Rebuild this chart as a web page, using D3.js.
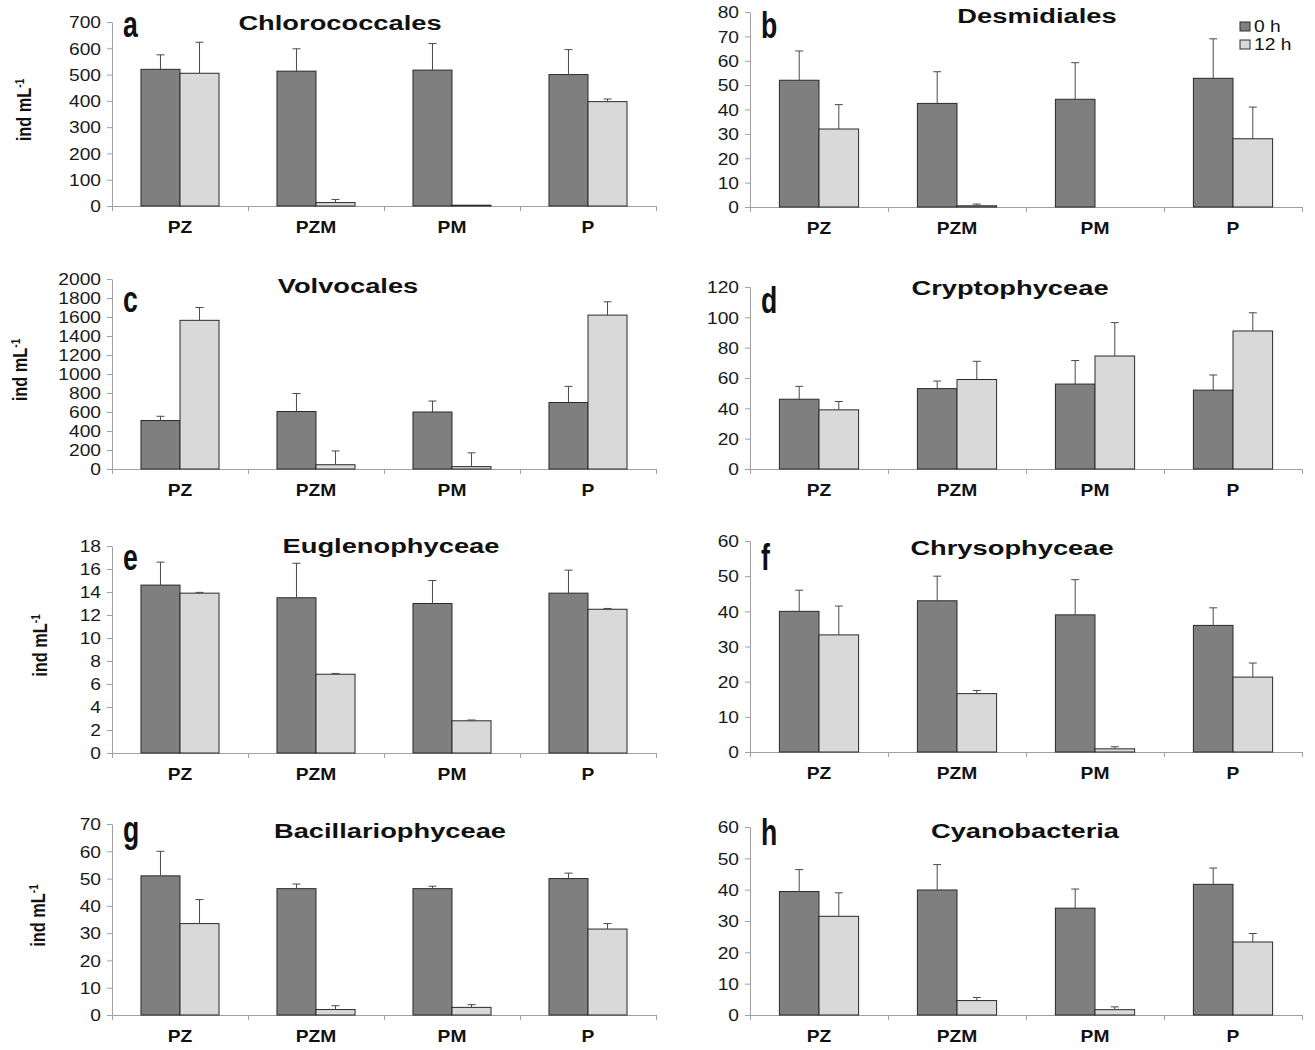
<!DOCTYPE html>
<html>
<head>
<meta charset="utf-8">
<script src="https://cdn.jsdelivr.net/npm/d3@7/dist/d3.min.js"></script>
<style>
  html, body { margin: 0; padding: 0; background: #fff; }
  svg { display: block; font-family: "Liberation Sans", Arial, sans-serif; }
</style>
</head>
<body>
<svg id="chart" width="1315" height="1050"></svg>
<script>
// Phytoplankton groups, abundance at 0 h and 12 h per treatment
const categories = ["PZ", "PZM", "PM", "P"];
const seriesNames = ["0 h", "12 h"];
const panelLetters = ["a", "b", "c", "d", "e", "f", "g", "h"];
const panelTitles = ["Chlorococcales", "Desmidiales", "Volvocales", "Cryptophyceae",
                     "Euglenophyceae", "Chrysophyceae", "Bacillariophyceae", "Cyanobacteria"];
const yMax  = [700, 80, 2000, 120, 18, 60, 70, 60];
const yStep = [100, 10, 200, 20, 2, 10, 10, 10];

// means (ind mL-1), one row per panel, columns follow categories
const mean0h = [
  [520, 513, 517, 500],
  [52, 42.5, 44.2, 52.8],
  [510, 605, 600, 700],
  [46, 53, 56, 52],
  [14.6, 13.5, 13, 13.9],
  [40, 43, 39, 36],
  [51, 46.3, 46.3, 50],
  [39.4, 39.9, 34.1, 41.7]
];
const mean12h = [
  [505, 13, 3, 397],
  [32, 0.5, 0, 28],
  [1565, 45, 25, 1620],
  [39, 59, 74.5, 91],
  [13.9, 6.85, 2.8, 12.5],
  [33.3, 16.6, 0.9, 21.3],
  [33.5, 2, 2.8, 31.5],
  [31.5, 4.6, 1.7, 23.3]
];
// standard deviations (upper error bars)
const sd0h = [
  [55, 85, 101, 95],
  [12, 13, 15, 16.2],
  [45, 190, 115, 170],
  [8.5, 5, 15.5, 10],
  [2, 3, 2, 2],
  [6, 7, 10, 5],
  [9, 1.7, 0.9, 2],
  [7, 8.1, 6.1, 5.2]
];
const sd12h = [
  [118, 12, 0, 10],
  [10, 0.7, 0, 13],
  [135, 145, 145, 140],
  [5.5, 12, 22, 12],
  [0.07, 0.07, 0.07, 0.07],
  [8.2, 0.9, 0.6, 4],
  [8.8, 1.4, 1, 2],
  [7.5, 1, 0.9, 2.7]
];

const svg = d3.select("#chart");
const SX = 1.2;               // horizontal stretch of the lettering
const fillColor = d3.scaleOrdinal().domain(seriesNames).range(["#7f7f7f", "#d9d9d9"]);

// panel frames: [x of y-axis, x end of x-axis, y of top tick, y of zero]
const frames = [
  [112, 656, 22, 206],  [750, 1302, 12, 207],
  [112, 656, 279, 469], [750, 1302, 287, 469],
  [112, 656, 546, 753], [750, 1302, 541, 752],
  [112, 656, 824, 1015],[750, 1302, 827, 1015]
];
const titleX = [340, 1037, 348, 1010, 391, 1012, 390, 1025];
const titleY = [30, 23, 293, 295, 553, 555, 838, 838];
const letterY = [37, 38, 312, 313, 570, 570, 842, 845];
const yLabelX = [24, null, 20, null, 40, null, 38, null];

function stretchedText(g, x, y, str, anchor, size, weight, sx) {
  return g.append("text")
    .attr("transform", `translate(${x},${y}) scale(${sx},1)`)
    .attr("text-anchor", anchor)
    .attr("font-size", size)
    .attr("font-weight", weight)
    .attr("fill", "#111")
    .text(str);
}

panelTitles.forEach((title, i) => {
  const [x0, x1, yTop, y0] = frames[i];
  const g = svg.append("g");

  const y = d3.scaleLinear().domain([0, yMax[i]]).range([y0, yTop]);
  const x = d3.scaleBand().domain(categories).range([x0, x1]);
  const bw = x.bandwidth();
  const xs = d3.scaleBand().domain(seriesNames).range([bw * 0.213, bw * 0.787]);

  // y axis
  const yAxis = g.append("g")
    .attr("transform", `translate(${x0},0)`)
    .call(d3.axisLeft(y).tickValues(d3.range(0, yMax[i] + yStep[i] / 2, yStep[i]))
      .tickFormat(d3.format("d")).tickSize(5).tickSizeOuter(0));
  yAxis.select(".domain").attr("stroke", "#a0a0a0");
  yAxis.selectAll(".tick line").attr("stroke", "#a0a0a0");
  yAxis.selectAll(".tick text")
    .attr("x", -11 / SX).attr("dy", "0.36em")
    .attr("transform", `scale(${SX},1)`)
    .attr("font-size", 16).attr("font-family", "Liberation Sans, Arial, sans-serif")
    .attr("fill", "#1a1a1a");

  // x axis with ticks on the category boundaries
  const xb = d3.scaleLinear().domain([0, categories.length]).range([x0, x1]);
  const xAxis = g.append("g")
    .attr("transform", `translate(0,${y0})`)
    .call(d3.axisBottom(xb).tickValues(d3.range(0, categories.length + 1))
      .tickFormat("").tickSize(5).tickSizeOuter(0));
  xAxis.select(".domain").attr("stroke", "#a0a0a0");
  xAxis.selectAll(".tick line").attr("stroke", "#a0a0a0");

  categories.forEach(c => {
    stretchedText(g, x(c) + bw / 2, y0 + 27, c, "middle", 16, "bold", SX);
  });

  // bars
  const rows = categories.map((c, j) => ([
    { cat: c, s: seriesNames[0], v: mean0h[i][j], e: sd0h[i][j] },
    { cat: c, s: seriesNames[1], v: mean12h[i][j], e: sd12h[i][j] }
  ])).flat();

  g.selectAll("rect.bar").data(rows.filter(d => d.v > 0)).join("rect")
    .attr("class", "bar")
    .attr("x", d => x(d.cat) + xs(d.s))
    .attr("y", d => y(d.v))
    .attr("width", xs.bandwidth())
    .attr("height", d => y(0) - y(d.v))
    .attr("fill", d => fillColor(d.s))
    .attr("stroke", "#2a2a2a")
    .attr("stroke-width", 1);

  // upper error bars
  const eb = g.selectAll("g.err").data(rows.filter(d => d.e > 0)).join("g").attr("class", "err")
    .attr("stroke", "#4a4a4a").attr("stroke-width", 1);
  eb.append("line")
    .attr("x1", d => x(d.cat) + xs(d.s) + xs.bandwidth() / 2)
    .attr("x2", d => x(d.cat) + xs(d.s) + xs.bandwidth() / 2)
    .attr("y1", d => y(d.v))
    .attr("y2", d => y(d.v + d.e));
  eb.append("line")
    .attr("x1", d => x(d.cat) + xs(d.s) + xs.bandwidth() / 2 - 4)
    .attr("x2", d => x(d.cat) + xs(d.s) + xs.bandwidth() / 2 + 4)
    .attr("y1", d => y(d.v + d.e))
    .attr("y2", d => y(d.v + d.e));

  // title and panel letter
  stretchedText(g, titleX[i], titleY[i], title, "middle", 21, "bold", 1.3);
  stretchedText(g, x0 + 11, letterY[i], panelLetters[i], "start", 37, "bold", 0.72);

  // y-axis label on the left column
  if (yLabelX[i] !== null) {
    const t = g.append("text")
      .attr("transform", `translate(${yLabelX[i]},${(y0 + yTop) / 2 - 4}) rotate(-90) scale(0.78,1)`)
      .attr("text-anchor", "middle")
      .attr("dy", "0.35em")
      .attr("font-size", 21).attr("font-weight", "bold").attr("fill", "#111");
    t.append("tspan").text("ind mL");
    t.append("tspan").attr("font-size", 13).attr("dy", "-0.6em").text("-1");
  }
});

// legend (top-right panel)
const legend = svg.append("g").attr("transform", "translate(1240,0)");
seriesNames.forEach((s, k) => {
  legend.append("rect")
    .attr("x", 0).attr("y", 22 + k * 18)
    .attr("width", 10).attr("height", 9)
    .attr("fill", fillColor(s)).attr("stroke", "#2e2e2e").attr("stroke-width", 1);
  stretchedText(legend, 14, 32 + k * 18, s, "start", 16, "normal", SX);
});
</script>
</body>
</html>
